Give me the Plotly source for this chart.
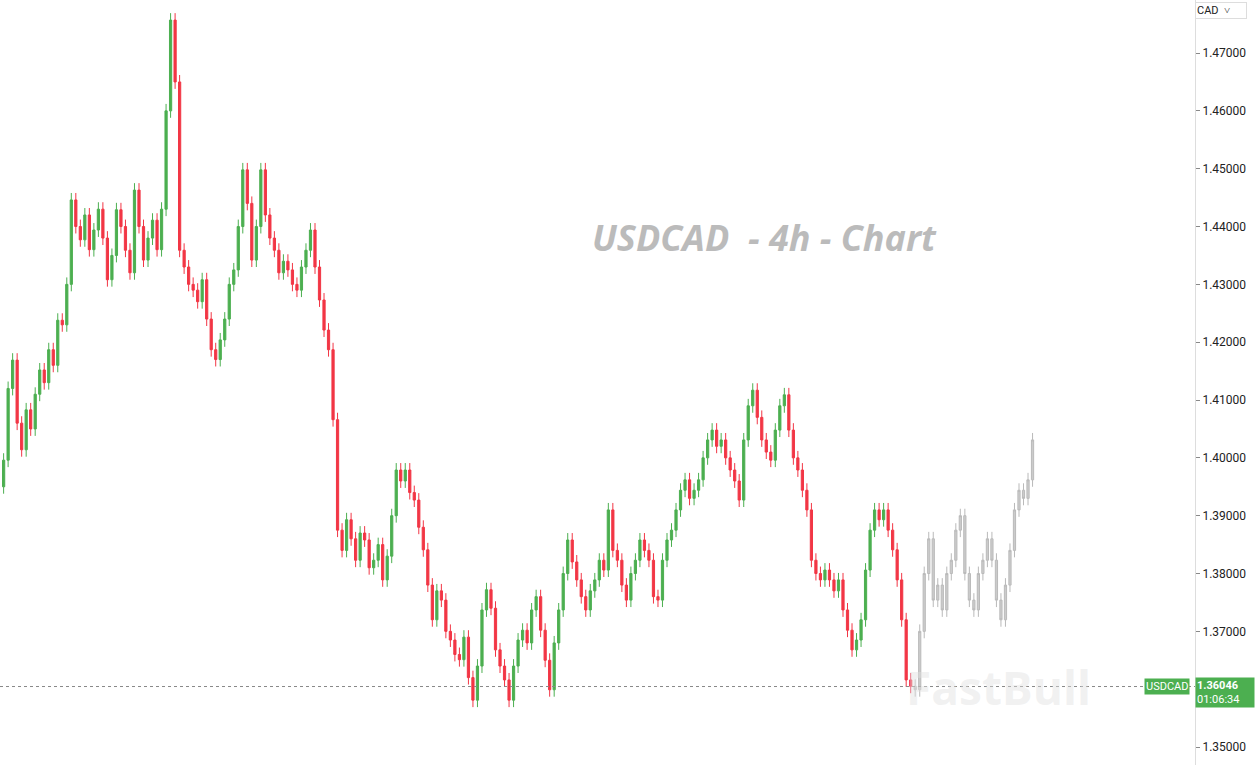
import plotly.graph_objects as go

closes = [1.3996,1.4120,1.4169,1.4060,1.4014,1.4083,1.4050,1.4110,1.4152,1.4130,1.4187,1.4160,1.4238,1.4230,1.4300,1.4446,
1.4400,1.4377,1.4420,1.4360,1.4394,1.4430,1.4380,1.4308,1.4350,1.4429,1.4400,1.4359,1.4320,1.4463,1.4400,1.4342,1.4380,1.4411,1.4360,1.4430,1.4600,1.4757,
1.4650,1.4359,1.4330,1.4300,1.4290,1.4270,1.4308,1.4240,1.4187,1.4170,1.4204,1.4240,1.4300,1.4325,1.4400,1.4498,
1.4440,1.4342,1.4400,1.4498,1.4420,1.4380,1.4359,1.4320,1.4340,1.4325,1.4300,1.4290,1.4330,1.4359,1.4394,1.4330,1.4273,1.4221,1.4187,1.4066,
1.3875,1.3840,1.3893,1.3860,1.3823,1.3870,1.3858,1.3810,1.3823,1.3850,1.3789,1.3830,1.3900,1.3979,
1.3960,1.3979,1.3940,1.3927,1.3880,1.3841,1.3780,1.3720,1.3770,1.3754,1.3700,1.3685,1.3660,1.3651,1.3690,1.3620,1.3581,
1.3640,1.3737,1.3772,1.3740,1.3668,1.3640,1.3616,1.3581,1.3640,1.3685,1.3702,1.3680,1.3737,1.3760,1.3702,1.3650,1.3599,1.3680,1.3737,1.3800,1.3858,
1.3820,1.3789,1.3760,1.3737,1.3770,1.3789,1.3823,1.3806,1.3910,1.3840,1.3823,1.3780,1.3754,1.3800,1.3823,1.3858,1.3840,1.3823,1.3760,1.3754,1.3823,1.3858,1.3875,1.3910,1.3944,1.3962,
1.3930,1.3944,1.3962,1.4000,1.4031,1.4048,1.4020,1.4031,1.4000,1.3979,1.3960,1.3927,1.4031,1.4090,1.4117,
1.4070,1.4031,1.4010,1.3996,1.4048,1.4090,1.4109,1.4048,1.4000,1.3979,1.3944,1.3910,1.3823,1.3800,1.3789,
1.3806,1.3789,1.3770,1.3789,1.3737,1.3702,1.3668,1.3685,1.3720,1.3806,1.3875,1.3910,1.3893,1.3910,1.3875,1.3841,1.3789,1.3720,1.3616,1.3605]

forecast = [1.3599,1.3700,1.3800,1.3860,1.3754,1.3780,1.3737,1.3800,1.3823,1.3875,1.3900,1.3800,1.3754,1.3737,1.3800,
1.3823,1.3860,1.3823,1.3754,1.3720,1.3780,1.3840,1.3910,1.3944,1.3930,1.3962,1.4031]

first_open = 1.3950
last_price = 1.36046
WICK = 0.0012

def ohlc(cl, o0):
    o = [o0] + cl[:-1]
    h = [max(a, b) + WICK for a, b in zip(o, cl)]
    l = [min(a, b) - WICK for a, b in zip(o, cl)]
    return o, h, l

o, h, l = ohlc(closes, first_open)
x = list(range(len(closes)))
fo, fh, fl = ohlc(forecast, closes[-1])
fx = list(range(len(closes), len(closes) + len(forecast)))

fig = go.Figure()
fig.add_trace(go.Candlestick(x=x, open=o, high=h, low=l, close=closes,
    increasing=dict(line=dict(color="#4caf50", width=1), fillcolor="#4caf50"),
    decreasing=dict(line=dict(color="#f23645", width=1), fillcolor="#f23645"),
    whiskerwidth=0, showlegend=False))
fig.add_trace(go.Candlestick(x=fx, open=fo, high=fh, low=fl, close=forecast, opacity=0.5,
    increasing=dict(line=dict(color="#777777", width=1), fillcolor="#999999"),
    decreasing=dict(line=dict(color="#777777", width=1), fillcolor="#999999"),
    whiskerwidth=0, showlegend=False))

fig.add_hline(y=last_price, line=dict(color="#888888", width=1, dash="dot"))

fig.update_layout(
    width=1260, height=765, paper_bgcolor="white", plot_bgcolor="white",
    margin=dict(l=0, r=65, t=0, b=0, autoexpand=False),
    xaxis=dict(range=[-0.8, 264], rangeslider=dict(visible=False), showgrid=False,
               showticklabels=False, zeroline=False, automargin=False),
    yaxis=dict(side="right", range=[1.34689, 1.47917], showgrid=False, zeroline=False, automargin=False,
               tickvals=[1.35,1.36,1.37,1.38,1.39,1.40,1.41,1.42,1.43,1.44,1.45,1.46,1.47],
               tickformat=".5f", ticks="outside", ticklen=4, tickcolor="#888",
               showline=True, linecolor="#dddddd",
               tickfont=dict(family="Roboto", size=12, color="#222")),
    font=dict(family="Roboto"),
    annotations=[
        dict(text="<b><i>USDCAD  - 4h - Chart</i></b>", xref="paper", yref="paper",
             x=0.64, y=0.724, showarrow=False, font=dict(size=36, color="#bbbbbb", family="Open Sans")),
        dict(text="<b>FastBull</b>", xref="paper", yref="y", x=0.915, y=last_price, showarrow=False,
             font=dict(size=46, color="rgba(225,225,225,0.45)", family="Open Sans")),
        dict(text="USDCAD", xref="paper", yref="y", x=0.996, y=last_price, xanchor="right",
             showarrow=False, bgcolor="#4caf50", font=dict(size=11, color="white")),
        dict(text="<b>1.36046</b><br>01:06:34", xref="paper", yref="y", x=1.0, y=last_price,
             xanchor="left", yanchor="middle", yshift=-6, showarrow=False, bgcolor="#4caf50",
             font=dict(size=11, color="white"), align="left", width=56),
        dict(text="CAD  ˅", xref="paper", yref="paper", x=1.0, y=0.998, xanchor="left", yanchor="top",
             showarrow=False, bordercolor="#dddddd", borderwidth=1, bgcolor="white",
             font=dict(size=11, color="#222"), width=48, align="left"),
    ])

fig.write_html("out.html", config={"displayModeBar": False})
with open("out.html", encoding="utf-8") as f:
    html = f.read()
html = html.replace("<body>", '<body style="margin:0">', 1)
with open("out.html", "w", encoding="utf-8") as f:
    f.write(html)
